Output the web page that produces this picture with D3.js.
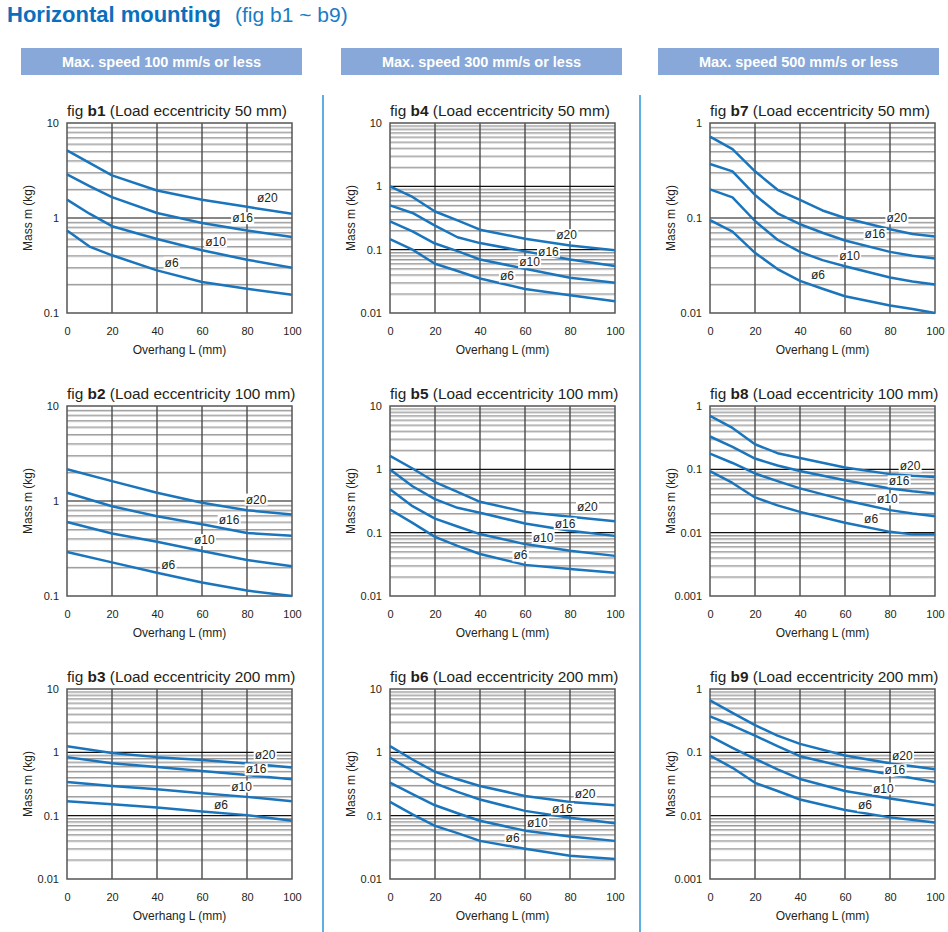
<!DOCTYPE html>
<html><head><meta charset="utf-8">
<script src="https://cdn.jsdelivr.net/npm/d3@7"></script>
<style>
body{margin:0;background:#fff}
svg{display:block}
text{font-family:"Liberation Sans",Arial,Helvetica,sans-serif}
</style>
</head><body>
<svg id="c" width="948" height="932"></svg>
<script>
// ---------- DATA ----------
const speeds = ["Max. speed 100 mm/s or less", "Max. speed 300 mm/s or less", "Max. speed 500 mm/s or less"];
const figNames = ["b1", "b2", "b3", "b4", "b5", "b6", "b7", "b8", "b9"];
const eccentricities = [50, 100, 200, 50, 100, 200, 50, 100, 200];
const seriesNames = ["ø20", "ø16", "ø10", "ø6"];
const xTicks = [0, 20, 40, 60, 80, 100];
const yDomains = [[0.1, 10], [0.1, 10], [0.01, 10], [0.01, 10], [0.01, 10], [0.01, 10], [0.01, 1], [0.001, 1], [0.001, 1]];
const yTickLabels = [
  ["10", "1", "0.1"], ["10", "1", "0.1"], ["10", "1", "0.1", "0.01"],
  ["10", "1", "0.1", "0.01"], ["10", "1", "0.1", "0.01"], ["10", "1", "0.1", "0.01"],
  ["1", "0.1", "0.01"], ["1", "0.1", "0.01", "0.001"], ["1", "0.1", "0.01", "0.001"]
];

// fig b1
const b1_L   = [0, 10, 20, 40, 60, 80, 100];
const b1_d20 = [5.15, 3.8, 2.81, 1.95, 1.56, 1.31, 1.11];
const b1_d16 = [2.88, 2.17, 1.66, 1.13, 0.886, 0.74, 0.63];
const b1_d10 = [1.56, 1.11, 0.82, 0.60, 0.457, 0.364, 0.30];
const b1_d6  = [0.74, 0.50, 0.405, 0.281, 0.212, 0.18, 0.156];
const b1_lab = [[89, 1.64], [78, 1.0], [66, 0.567], [46.5, 0.34]];
// fig b2
const b2_L   = [0, 20, 40, 60, 80, 100];
const b2_d20 = [2.16, 1.62, 1.22, 0.957, 0.80, 0.72];
const b2_d16 = [1.22, 0.88, 0.69, 0.57, 0.46, 0.43];
const b2_d10 = [0.60, 0.455, 0.372, 0.297, 0.239, 0.206];
const b2_d6  = [0.29, 0.226, 0.176, 0.139, 0.114, 0.10];
const b2_lab = [[84, 1.04], [72, 0.64], [61, 0.39], [45, 0.215]];
// fig b3
const b3_L   = [0, 20, 40, 60, 80, 100];
const b3_d20 = [1.25, 0.98, 0.84, 0.755, 0.668, 0.578];
const b3_d16 = [0.84, 0.67, 0.586, 0.507, 0.438, 0.375];
const b3_d10 = [0.34, 0.294, 0.261, 0.226, 0.198, 0.169];
const b3_d6  = [0.169, 0.151, 0.134, 0.116, 0.102, 0.083];
const b3_lab = [[88, 0.93], [84, 0.54], [77.6, 0.29], [68.4, 0.151]];
// fig b4
const b4_L   = [0, 10, 20, 30, 40, 60, 80, 100];
const b4_d20 = [1.0, 0.68, 0.40, 0.29, 0.207, 0.149, 0.116, 0.098];
const b4_d16 = [0.50, 0.38, 0.24, 0.157, 0.127, 0.094, 0.07, 0.055];
const b4_d10 = [0.28, 0.195, 0.125, 0.095, 0.07, 0.05, 0.036, 0.030];
const b4_d6  = [0.147, 0.10, 0.060, 0.046, 0.035, 0.024, 0.019, 0.0153];
const b4_lab = [[78.5, 0.171], [70.4, 0.094], [62, 0.064], [52, 0.038]];
// fig b5
const b5_L   = [0, 10, 20, 30, 40, 60, 80, 100];
const b5_d20 = [1.63, 1.03, 0.63, 0.44, 0.307, 0.213, 0.178, 0.152];
const b5_d16 = [0.99, 0.54, 0.338, 0.247, 0.206, 0.14, 0.107, 0.089];
const b5_d10 = [0.485, 0.262, 0.167, 0.125, 0.095, 0.066, 0.052, 0.043];
const b5_d6  = [0.232, 0.143, 0.086, 0.062, 0.046, 0.031, 0.0266, 0.0233];
const b5_lab = [[87.7, 0.253], [77.8, 0.14], [68, 0.084], [58, 0.044]];
// fig b6
const b6_L   = [0, 10, 20, 30, 40, 60, 80, 100];
const b6_d20 = [1.25, 0.77, 0.494, 0.375, 0.294, 0.205, 0.165, 0.146];
const b6_d16 = [0.82, 0.507, 0.324, 0.237, 0.18, 0.119, 0.093, 0.076];
const b6_d10 = [0.332, 0.218, 0.146, 0.109, 0.083, 0.058, 0.047, 0.040];
const b6_d6  = [0.165, 0.105, 0.069, 0.053, 0.040, 0.030, 0.0233, 0.0207];
const b6_lab = [[86.7, 0.218], [76.6, 0.129], [65.5, 0.076], [54.5, 0.045]];
// fig b7
const b7_L   = [0, 10, 20, 30, 40, 50, 60, 80, 90, 100];
const b7_d20 = [0.72, 0.53, 0.31, 0.198, 0.155, 0.12, 0.10, 0.076, 0.068, 0.064];
const b7_d16 = [0.37, 0.31, 0.175, 0.112, 0.086, 0.070, 0.058, 0.044, 0.040, 0.0375];
const b7_d10 = [0.20, 0.165, 0.093, 0.059, 0.044, 0.036, 0.031, 0.0236, 0.0215, 0.020];
const b7_d6  = [0.095, 0.072, 0.043, 0.029, 0.0218, 0.018, 0.015, 0.012, 0.011, 0.010];
const b7_lab = [[83, 0.10], [73.3, 0.068], [62, 0.040], [48, 0.0254]];
// fig b8
const b8_L   = [0, 10, 20, 30, 40, 60, 80, 90, 100];
const b8_d20 = [0.70, 0.45, 0.249, 0.18, 0.151, 0.107, 0.084, 0.079, 0.076];
const b8_d16 = [0.33, 0.226, 0.148, 0.115, 0.094, 0.067, 0.050, 0.045, 0.0415];
const b8_d10 = [0.177, 0.126, 0.086, 0.065, 0.050, 0.0326, 0.0227, 0.020, 0.0182];
const b8_d6  = [0.094, 0.061, 0.036, 0.027, 0.0213, 0.0143, 0.0103, 0.0094, 0.0094];
const b8_lab = [[88.9, 0.112], [84, 0.065], [78.8, 0.0338], [71.6, 0.0167]];
// fig b9
const b9_L   = [0, 10, 20, 30, 40, 60, 80, 100];
const b9_d20 = [0.66, 0.42, 0.268, 0.184, 0.136, 0.089, 0.067, 0.054];
const b9_d16 = [0.37, 0.265, 0.184, 0.125, 0.087, 0.059, 0.045, 0.034];
const b9_d10 = [0.18, 0.118, 0.079, 0.054, 0.038, 0.0245, 0.0186, 0.0146];
const b9_d6  = [0.089, 0.057, 0.033, 0.0245, 0.018, 0.0123, 0.0094, 0.0078];
const b9_lab = [[85.5, 0.087], [82.2, 0.0526], [77, 0.027], [68.9, 0.0146]];

const panels = [
  {L: b1_L, s: [b1_d20, b1_d16, b1_d10, b1_d6], lab: b1_lab},
  {L: b2_L, s: [b2_d20, b2_d16, b2_d10, b2_d6], lab: b2_lab},
  {L: b3_L, s: [b3_d20, b3_d16, b3_d10, b3_d6], lab: b3_lab},
  {L: b4_L, s: [b4_d20, b4_d16, b4_d10, b4_d6], lab: b4_lab},
  {L: b5_L, s: [b5_d20, b5_d16, b5_d10, b5_d6], lab: b5_lab},
  {L: b6_L, s: [b6_d20, b6_d16, b6_d10, b6_d6], lab: b6_lab},
  {L: b7_L, s: [b7_d20, b7_d16, b7_d10, b7_d6], lab: b7_lab},
  {L: b8_L, s: [b8_d20, b8_d16, b8_d10, b8_d6], lab: b8_lab},
  {L: b9_L, s: [b9_d20, b9_d16, b9_d10, b9_d6], lab: b9_lab}
];

// ---------- LAYOUT ----------
const svg = d3.select("#c");
const BLUE = "#1b75bc", TXT = "#231f20";
const colX = [67, 390, 710], rowY = [123, 406, 689], W = 225, H = 190;
const bannerX = [21, 341, 658], bannerW = 281;

// header
svg.append("text").attr("x", 7).attr("y", 22).attr("font-size", 22).attr("font-weight", "bold")
  .attr("fill", "#0a70bd").text("Horizontal mounting");
svg.append("text").attr("x", 235).attr("y", 22).attr("font-size", 21)
  .attr("fill", "#1a7cc6").text("(fig b1 ~ b9)");

// banners
speeds.forEach((s, i) => {
  svg.append("rect").attr("x", bannerX[i]).attr("y", 48).attr("width", bannerW).attr("height", 27).attr("fill", "#87a8d8");
  svg.append("text").attr("x", bannerX[i] + bannerW / 2).attr("y", 66.5).attr("text-anchor", "middle")
    .attr("font-size", 14.5).attr("font-weight", "bold").attr("fill", "#fff").text(s);
});

// separators
[323, 640].forEach(xx => {
  svg.append("line").attr("x1", xx).attr("x2", xx).attr("y1", 95).attr("y2", 932)
    .attr("stroke", "#5fb0e2").attr("stroke-width", 2);
});

panels.forEach((p, k) => {
  const c = Math.floor(k / 3), r = k % 3;
  const g = svg.append("g").attr("transform", `translate(${colX[c]},${rowY[r]})`);
  const x = d3.scaleLinear().domain([0, 100]).range([0, W]);
  const y = d3.scaleLog().domain(yDomains[k]).range([H, 0]);
  const e0 = Math.round(Math.log10(yDomains[k][0])), e1 = Math.round(Math.log10(yDomains[k][1]));
  const minor = [], decades = [];
  for (let e = e0; e < e1; e++) {
    for (let m = 2; m <= 9; m++) minor.push(m * Math.pow(10, e));
    if (e > e0) decades.push(Math.pow(10, e));
  }
  // minor horizontal grid (double line look)
  g.selectAll(".mnl").data(minor).join("line")
    .attr("x1", 0).attr("x2", W).attr("y1", d => y(d) + 1).attr("y2", d => y(d) + 1)
    .attr("stroke", "#cdcdcd").attr("stroke-width", 1);
  g.selectAll(".mnd").data(minor).join("line")
    .attr("x1", 0).attr("x2", W).attr("y1", d => y(d)).attr("y2", d => y(d))
    .attr("stroke", "#8a8a8a").attr("stroke-width", 0.9);
  // vertical grid
  g.selectAll(".vg").data(xTicks.slice(1, -1)).join("line")
    .attr("x1", d => x(d)).attr("x2", d => x(d)).attr("y1", 0).attr("y2", H)
    .attr("stroke", "#4a4a4a").attr("stroke-width", 1.4);
  // decade lines
  g.selectAll(".dg").data(decades).join("line")
    .attr("x1", 0).attr("x2", W).attr("y1", d => y(d)).attr("y2", d => y(d))
    .attr("stroke", "#111").attr("stroke-width", 1.1);
  // frame
  g.append("rect").attr("x", 0).attr("y", 0).attr("width", W).attr("height", H)
    .attr("fill", "none").attr("stroke", "#555").attr("stroke-width", 1.5);

  // curves
  const line = d3.line().x(d => x(d[0])).y(d => y(d[1])).curve(d3.curveLinear);
  p.s.forEach(vals => {
    g.append("path").datum(p.L.map((L, i) => [L, vals[i]]))
      .attr("d", line).attr("fill", "none").attr("stroke", BLUE).attr("stroke-width", 2.5)
      .attr("stroke-linejoin", "round");
  });

  // labels with white background
  p.lab.forEach((lp, i) => {
    const lg = g.append("g");
    const t = lg.append("text").attr("x", x(lp[0])).attr("y", y(lp[1])).attr("dy", "0.35em")
      .attr("text-anchor", "middle").attr("font-size", 12).attr("fill", TXT).text(seriesNames[i]);
    const bb = t.node().getBBox();
    lg.insert("rect", "text").attr("x", bb.x - 1).attr("y", bb.y + 1).attr("width", bb.width + 2)
      .attr("height", bb.height - 2).attr("fill", "#fff");
  });

  // axes
  const xa = g.append("g").attr("transform", `translate(0,${H})`)
    .call(d3.axisBottom(x).tickValues(xTicks).tickSize(0).tickPadding(14).tickFormat(d3.format("d")));
  xa.select(".domain").remove();
  xa.selectAll("text").attr("font-size", 11).attr("fill", TXT).attr("font-family", null);
  const yVals = yTickLabels[k].map(s => +s);
  const ya = g.append("g")
    .call(d3.axisLeft(y).tickValues(yVals).tickSize(0).tickPadding(8).tickFormat((d, i) => yTickLabels[k][i]));
  ya.select(".domain").remove();
  ya.selectAll("text").attr("font-size", 11).attr("fill", TXT).attr("font-family", null);

  // axis titles
  g.append("text").attr("x", W / 2).attr("y", H + 41).attr("text-anchor", "middle")
    .attr("font-size", 12).attr("fill", TXT).text("Overhang L (mm)");
  g.append("text").attr("transform", `translate(-35,${H / 2}) rotate(-90)`).attr("text-anchor", "middle")
    .attr("font-size", 12).attr("fill", TXT).text("Mass m (kg)");

  // panel title
  const tt = g.append("text").attr("x", 0).attr("y", -7).attr("font-size", 15.4).attr("fill", TXT);
  tt.append("tspan").text("fig ");
  tt.append("tspan").attr("font-weight", "bold").text(figNames[k]);
  tt.append("tspan").text(` (Load eccentricity ${eccentricities[k]} mm)`);
});
</script>
</body></html>
